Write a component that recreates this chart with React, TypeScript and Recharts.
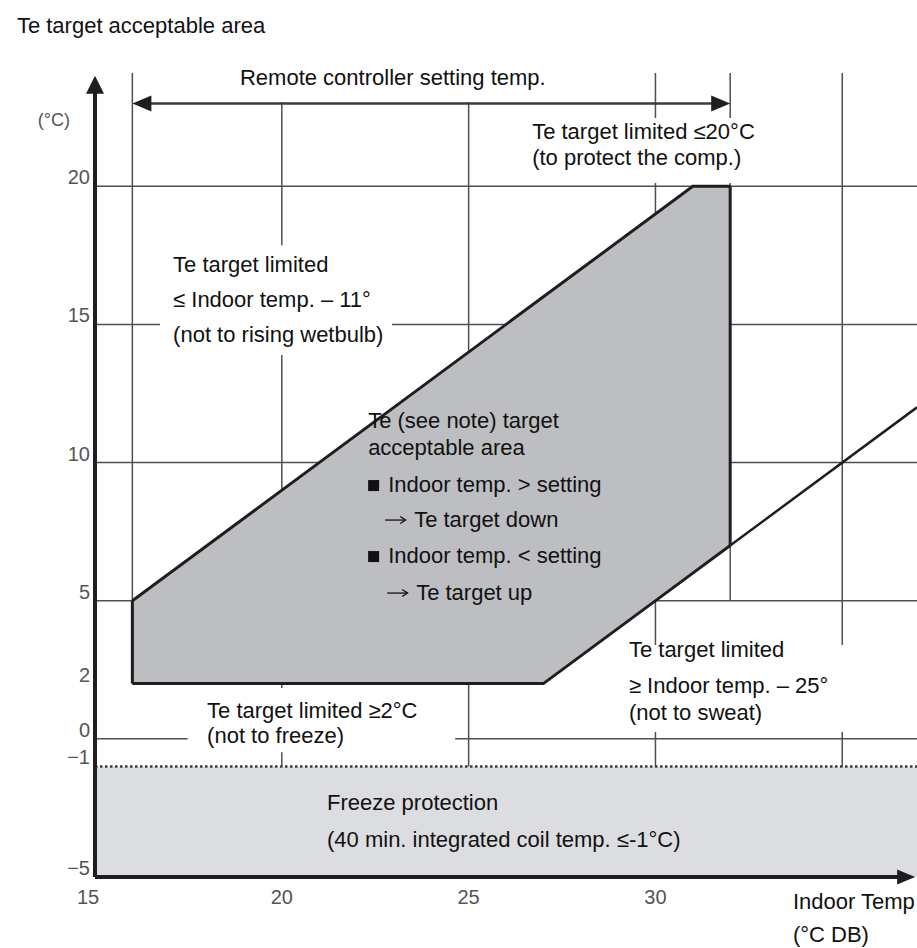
import React from "react";
import {
  ComposedChart,
  Area,
  XAxis,
  YAxis,
  ReferenceLine,
  ReferenceArea,
  ReferenceDot,
} from "recharts";

const FONT = '"Liberation Sans", Arial, sans-serif';

// acceptable Te window: indoor temp -> lower / upper Te target
const indoorTemps = [16, 27, 31, 32];
const teLower = [2, 2, 6, 7];
const teUpper = [5, 16, 20, 20];

// "≥ indoor - 25" limit keeps going past the window
const sweatLimitX = [32, 37];
const sweatLimitY = [7, 12];

const xTicks = [15, 20, 25, 30];
const yTicks = [20, 15, 10, 5, 2, 0, -1, -5];
const gridX = [20, 25, 30, 35];
const gridY = [20, 15, 10, 5, 0];

const settingRange = [16, 32]; // remote controller setting temp.
const freezeLimit = -1;

const rows = indoorTemps.map((x, i) => ({ x, te: [teLower[i], teUpper[i]] }));

// text blocks, anchored in chart units (left edge / first baseline)
const notes = [
  { x: 12.91, y: 25.55, lines: [{ t: "Te target acceptable area" }] },
  { x: 18.88, y: 23.66, lines: [{ t: "Remote controller setting temp." }] },
  { x: 13.47, y: 22.18, size: 18, color: "#555", lines: [{ t: "(°C)" }] },
  {
    x: 26.7, y: 21.71,
    lines: [{ t: "Te target limited ≤20°C" }, { t: "(to protect the comp.)", dy: 26 }],
  },
  {
    x: 17.09, y: 16.9,
    lines: [
      { t: "Te target limited" },
      { t: "≤ Indoor temp. – 11°", dy: 35 },
      { t: "(not to rising wetbulb)", dy: 70 },
    ],
  },
  {
    x: 22.31, y: 11.25,
    lines: [
      { t: "Te (see note) target" },
      { t: "acceptable area", dy: 27 },
      { t: "Indoor temp. > setting", dy: 64, bullet: true },
      { t: "Te target down", dy: 99, arrow: 17 },
      { t: "Indoor temp. < setting", dy: 135, bullet: true },
      { t: "Te target up", dy: 172, arrow: 19 },
    ],
  },
  {
    x: 29.29, y: 2.96,
    lines: [
      { t: "Te target limited" },
      { t: "≥ Indoor temp. – 25°", dy: 36 },
      { t: "(not to sweat)", dy: 63 },
    ],
  },
  {
    x: 18.0, y: 0.75,
    lines: [{ t: "Te target limited ≥2°C" }, { t: "(not to freeze)", dy: 25 }],
  },
  {
    x: 21.21, y: -2.58,
    lines: [{ t: "Freeze protection" }, { t: "(40 min. integrated coil temp. ≤-1°C)", dy: 37 }],
  },
  { x: 33.68, y: -6.16, lines: [{ t: "Indoor Temp" }, { t: "(°C DB)", dy: 33 }] },
];

// white patches behind the labels (hide the grid there)
const masks = [
  { x1: 18.61, x2: 27.58, y1: 23.05, y2: 24.5 },
  { x1: 26.51, x2: 33.6, y1: 20.12, y2: 22.47 },
  { x1: 16.74, x2: 22.95, y1: 13.89, y2: 17.87 },
  { x1: 17.48, x2: 24.64, y1: -0.48, y2: 1.84 },
  { x1: 29.21, x2: 37, y1: 0.25, y2: 3.4 },
];

const arrows = [
  { x: 15, y: 24, dir: "up", len: 18, half: 9 },
  { x: 36.95, y: -5, dir: "right", len: 18, half: 7.5 },
  { x: settingRange[0], y: 23, dir: "left", len: 19, half: 8 },
  { x: settingRange[1], y: 23, dir: "right", len: 19, half: 8 },
];

const GRID = "#4f4f4f";
const INK = "#1e1e1e";

function Arrowhead({ cx, cy, dir, len, half }: any) {
  let pts = "";
  if (dir === "up") pts = `${cx},${cy} ${cx - half},${cy + len} ${cx + half},${cy + len}`;
  if (dir === "left") pts = `${cx},${cy} ${cx + len},${cy - half} ${cx + len},${cy + half}`;
  if (dir === "right") pts = `${cx},${cy} ${cx - len},${cy - half} ${cx - len},${cy + half}`;
  return <polygon points={pts} fill={INK} />;
}

function NoteText({ cx, cy, note }: any) {
  const size = note.size ?? 22;
  return (
    <g>
      {note.lines.map((l: any, i: number) => {
        const by = cy + (l.dy ?? 0);
        if (l.bullet) {
          return (
            <g key={i}>
              <rect x={cx} y={by - 12} width={11} height={11} fill="#111" />
              <text x={cx + 20} y={by} fontFamily={FONT} fontSize={size} fill="#111">{l.t}</text>
            </g>
          );
        }
        if (l.arrow) {
          // arrow drawn as a thin line + open head, like the reference's "→"
          const ax = cx + l.arrow;
          const ay = by - 7;
          return (
            <g key={i}>
              <line x1={ax} y1={ay} x2={ax + 20} y2={ay} stroke="#111" strokeWidth={1.3} />
              <polyline
                points={`${ax + 15},${ay - 3.5} ${ax + 20.5},${ay} ${ax + 15},${ay + 3.5}`}
                fill="none"
                stroke="#111"
                strokeWidth={1.3}
              />
              <text x={ax + 29} y={by} fontFamily={FONT} fontSize={size} fill="#111">{l.t}</text>
            </g>
          );
        }
        return (
          <text key={i} x={cx + (l.dx ?? 0)} y={by} fontFamily={FONT} fontSize={size} fill={note.color ?? "#111"}>
            {l.t}
          </text>
        );
      })}
    </g>
  );
}

const fmt = (v: number) => (v < 0 ? "\u2212" + Math.abs(v) : String(v));

function YTick({ x, y, payload }: any) {
  return (
    <text x={x} y={y - 2} textAnchor="end" fontFamily={FONT} fontSize={20} fill="#555">
      {fmt(payload.value)}
    </text>
  );
}

function XTick({ x, y, payload }: any) {
  const shift = payload.value === 15 ? -7 : 0;
  return (
    <text x={x + shift} y={y + 27} textAnchor="middle" fontFamily={FONT} fontSize={20} fill="#555">
      {payload.value}
    </text>
  );
}

export default function App() {
  return (
    <div style={{ position: "absolute", left: 0, top: 0, background: "#fff" }}>
      <ComposedChart
        width={917}
        height={948}
        data={rows}
        margin={{ top: 62, right: 0, bottom: 0, left: 0 }}
      >
        <XAxis
          type="number"
          dataKey="x"
          domain={[15, 37]}
          ticks={xTicks}
          interval={0}
          tick={<XTick />}
          axisLine={false}
          tickLine={false}
          tickSize={0}
          tickMargin={0}
          height={71}
        />
        <YAxis
          type="number"
          domain={[-5, 24.5]}
          ticks={yTicks}
          interval={0}
          tick={<YTick />}
          axisLine={false}
          tickLine={false}
          tickSize={0}
          tickMargin={5}
          width={95}
        />

        {/* freeze protection band */}
        <ReferenceArea
          x1={15} x2={37} y1={-5} y2={freezeLimit}
          fill="#dcdde0" fillOpacity={1} stroke="none"
          ifOverflow="visible" zIndex={1}
        />

        {/* grid */}
        {gridY.map((v) => (
          <ReferenceLine
            key={"gy" + v}
            segment={[{ x: 15, y: v }, { x: 37, y: v }]}
            stroke={GRID} strokeWidth={1.5} ifOverflow="visible" zIndex={2}
          />
        ))}
        {gridX.map((v) => (
          <ReferenceLine
            key={"gx" + v}
            segment={[{ x: v, y: freezeLimit }, { x: v, y: 24.1 }]}
            stroke={GRID} strokeWidth={1.5} ifOverflow="visible" zIndex={2}
          />
        ))}
        {settingRange.map((v) => (
          <ReferenceLine
            key={"gs" + v}
            segment={[{ x: v, y: 5 }, { x: v, y: 24.1 }]}
            stroke={GRID} strokeWidth={1.5} ifOverflow="visible" zIndex={2}
          />
        ))}

        {masks.map((m, i) => (
          <ReferenceArea
            key={"m" + i}
            {...m}
            fill="#fff" fillOpacity={1} stroke="none"
            ifOverflow="visible" zIndex={3}
          />
        ))}

        {/* acceptable area */}
        <Area
          dataKey="te"
          type="linear"
          fill="#bdbec1"
          fillOpacity={1}
          stroke={INK}
          strokeWidth={3}
          dot={false}
          activeDot={false}
          isAnimationActive={false}
          zIndex={4}
        />
        <ReferenceLine
          segment={[{ x: indoorTemps[0], y: teLower[0] }, { x: indoorTemps[0], y: teUpper[0] }]}
          stroke={INK} strokeWidth={3} ifOverflow="visible" zIndex={5}
        />
        <ReferenceLine
          segment={[{ x: indoorTemps[3], y: teLower[3] }, { x: indoorTemps[3], y: teUpper[3] }]}
          stroke={INK} strokeWidth={3} ifOverflow="visible" zIndex={5}
        />
        <ReferenceLine
          segment={[{ x: sweatLimitX[0], y: sweatLimitY[0] }, { x: sweatLimitX[1], y: sweatLimitY[1] }]}
          stroke={INK} strokeWidth={2.5} ifOverflow="visible" zIndex={5}
        />

        {/* freeze limit */}
        <ReferenceLine
          segment={[{ x: 15, y: freezeLimit }, { x: 37, y: freezeLimit }]}
          stroke="#3c3c3c" strokeWidth={2.5} strokeDasharray="2.5 2.5"
          ifOverflow="visible" zIndex={5}
        />

        {/* setting temp. span */}
        <ReferenceLine
          segment={[{ x: settingRange[0] + 0.3, y: 23 }, { x: settingRange[1] - 0.3, y: 23 }]}
          stroke="#3a3a3a" strokeWidth={2.5} ifOverflow="visible" zIndex={5}
        />

        {/* axes */}
        <ReferenceLine
          segment={[{ x: 15, y: -5 }, { x: 15, y: 23.5 }]}
          stroke={INK} strokeWidth={4} ifOverflow="visible" zIndex={6}
        />
        <ReferenceLine
          segment={[{ x: 15, y: -5 }, { x: 36.6, y: -5 }]}
          stroke={INK} strokeWidth={4} ifOverflow="visible" zIndex={6}
        />

        {arrows.map((a, i) => (
          <ReferenceDot
            key={"a" + i}
            x={a.x}
            y={a.y}
            r={0}
            ifOverflow="visible"
            zIndex={7}
            shape={(p: any) => <Arrowhead cx={p.cx} cy={p.cy} {...a} />}
          />
        ))}

        {notes.map((n, i) => (
          <ReferenceDot
            key={"n" + i}
            x={n.x}
            y={n.y}
            r={0}
            ifOverflow="visible"
            zIndex={8}
            shape={(p: any) => <NoteText cx={p.cx} cy={p.cy} note={n} />}
          />
        ))}
      </ComposedChart>
    </div>
  );
}
